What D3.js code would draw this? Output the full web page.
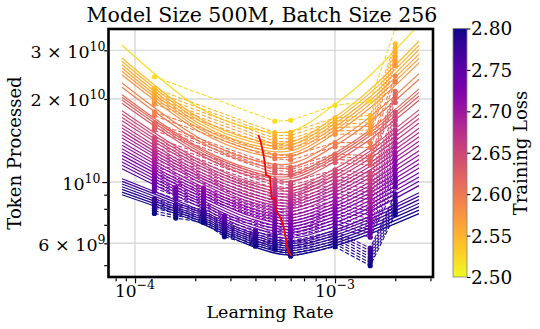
<!DOCTYPE html>
<html lang="en">
<head>
<meta charset="UTF-8">
<title>Model Size 500M, Batch Size 256</title>
<style>
  body { margin: 0; background: #ffffff; }
  svg text { font-family: 'DejaVu Serif', serif; fill: #000000; }
</style>
</head>
<body>
<svg id="chart" width="540" height="329"></svg>
<script src="https://d3js.org/d3.v7.min.js"></script>
<script>
// loss level of each contour, top (yellow) to bottom (dark blue)
const lossLevels = [2.520, 2.544, 2.550, 2.557, 2.563, 2.569, 2.575, 2.591, 2.599, 2.613,
  2.618, 2.623, 2.629, 2.643, 2.649, 2.655, 2.661, 2.669, 2.675, 2.681,
  2.687, 2.694, 2.701, 2.707, 2.714, 2.720, 2.726, 2.732, 2.738, 2.745,
  2.751, 2.770, 2.774, 2.779, 2.785, 2.789, 2.794, 2.799];

// fitted curves: tokens (billions) needed to reach each loss, sampled at these learning rates
const fitLR = [8.61e-5, 2.11e-4, 3.76e-4, 5.96e-4, 1e-3, 1.5e-3, 2.63e-3];
const fit1 = [31.3, 28.14, 27.37, 26.61, 25.88, 25.19, 24.48, 22.84, 22.04, 20.71, 20.27, 19.82, 19.28, 18.12, 17.63, 17.15, 16.67, 16.13, 15.69, 15.26, 14.84, 14.43, 13.97, 13.59, 13.21, 12.84, 12.49, 12.15, 11.82, 11.50, 11.18, 10.28, 10.06, 9.836, 9.617, 9.411, 9.199, 8.995];
const fit2 = [18.49, 17.00, 16.63, 16.25, 15.90, 15.56, 15.20, 14.39, 13.99, 13.30, 13.09, 12.84, 12.57, 11.96, 11.70, 11.45, 11.19, 10.89, 10.65, 10.42, 10.18, 9.969, 9.706, 9.498, 9.276, 9.077, 8.883, 8.677, 8.491, 8.309, 8.117, 7.917, 7.785, 7.643, 7.505, 7.381, 7.248, 7.114];
const fit3 = [15.65, 14.35, 14.04, 13.71, 13.41, 13.11, 12.80, 12.10, 11.75, 11.17, 10.97, 10.77, 10.53, 10.01, 9.788, 9.569, 9.346, 9.092, 8.890, 8.692, 8.491, 8.302, 8.083, 7.903, 7.720, 7.549, 7.380, 7.210, 7.050, 6.893, 6.734, 6.585, 6.465, 6.347, 6.232, 6.124, 6.012, 5.898];
const fit4 = [15.26, 13.93, 13.61, 13.27, 12.96, 12.65, 12.35, 11.64, 11.27, 10.68, 10.48, 10.28, 10.04, 9.521, 9.291, 9.070, 8.853, 8.598, 8.399, 8.199, 8.003, 7.811, 7.586, 7.411, 7.228, 7.062, 6.893, 6.728, 6.567, 6.410, 6.257, 6.094, 5.982, 5.863, 5.753, 5.644, 5.535, 5.431];
const fit5 = [19.12, 17.22, 16.76, 16.30, 15.86, 15.44, 15.01, 14.02, 13.54, 12.74, 12.46, 12.19, 11.87, 11.17, 10.86, 10.57, 10.28, 9.951, 9.682, 9.427, 9.161, 8.913, 8.627, 8.392, 8.164, 7.943, 7.733, 7.517, 7.319, 7.121, 6.922, 6.706, 6.563, 6.422, 6.280, 6.143, 6.012, 5.879];
const fit6 = [24.36, 21.67, 21.03, 20.37, 19.77, 19.19, 18.59, 17.22, 16.56, 15.47, 15.11, 14.74, 14.30, 13.36, 12.96, 12.58, 12.19, 11.75, 11.40, 11.07, 10.71, 10.40, 10.03, 9.730, 9.427, 9.145, 8.875, 8.598, 8.343, 8.096, 7.844, 7.524, 7.351, 7.169, 6.992, 6.830, 6.662, 6.498];
const fit7 = [37.28, 32.43, 31.28, 30.16, 29.07, 28.04, 27.03, 24.69, 23.56, 21.75, 21.13, 20.51, 19.79, 18.26, 17.60, 16.98, 16.37, 15.67, 15.11, 14.58, 14.06, 13.56, 12.98, 12.52, 12.06, 11.65, 11.24, 10.81, 10.43, 10.07, 9.706, 9.147, 8.890, 8.636, 8.379, 8.145, 7.910, 7.683];

// measured runs: tokens (billions) at which each run reached each loss level (null = not reached)
const runLR = [1.25e-4, 1.6e-4, 2.2e-4, 2.8e-4, 4e-4, 5e-4, 6e-4, 1e-3, 1.5e-3, 2e-3];
const N = null;
const run1 = [24.05, 21.82, 21.26, 20.70, 20.18, 19.67, 19.15, 17.97, 17.38, 16.41, 16.08, 15.75, 15.37, 14.51, 14.15, 13.79, 13.43, 13.02, 12.69, 12.37, 12.05, 11.75, 11.40, 11.10, 10.80, 10.54, 10.28, 10.01, 9.763, 9.513, 9.260, 8.714, 8.548, 8.371, 8.192, 8.036, 7.871, 7.701];
const run2 = [N, N, N, N, N, N, N, N, N, N, N, N, N, N, N, N, N, N, N, N, N, N, N, N, N, N, 9.553, 9.315, 9.100, 8.890, 8.670, 8.308, 8.158, 7.996, 7.844, 7.700, 7.548, 7.405];
const run3 = [N, N, N, N, N, N, N, N, N, N, N, N, N, N, N, N, N, N, N, N, N, N, N, 9.536, 9.315, 9.116, 8.913, 8.707, 8.519, 8.337, 8.144, 7.943, 7.811, 7.670, 7.531, 7.405, 7.270, 7.139];
const run4 = [N, N, N, N, N, N, N, N, N, N, N, N, N, N, N, N, N, N, N, N, N, N, N, N, N, N, N, N, 7.561, 7.393, 7.223, 7.068, 6.945, 6.818, 6.695, 6.585, 6.464, 6.342];
const run5 = [N, N, N, N, N, N, N, N, N, N, N, N, N, N, N, N, N, N, N, N, N, N, N, N, N, N, N, N, N, N, 6.694, 6.540, 6.422, 6.305, 6.190, 6.084, 5.972, 5.859];
const run6 = [16.62, 15.11, 14.75, 14.39, 14.04, 13.70, 13.35, 12.55, 12.15, 11.50, 11.29, 11.04, 10.79, 10.20, 9.960, 9.714, 9.474, 9.191, 8.964, 8.750, 8.527, 8.323, 8.077, 7.883, 7.688, 7.498, 7.319, 7.133, 6.956, 6.790, 6.617, 6.433, 6.305, 6.180, 6.058, 5.942, 5.824, 5.710];
const run7 = [16.73, 15.14, 14.75, 14.35, 14.00, 13.63, 13.27, 12.43, 12.01, 11.33, 11.10, 10.86, 10.58, 9.985, 9.730, 9.474, 9.222, 8.934, 8.714, 8.484, 8.261, 8.049, 7.792, 7.599, 7.393, 7.204, 7.021, 6.836, 6.655, 6.486, 6.315, 6.108, 5.987, 5.859, 5.738, 5.619, 5.499, 5.385];
const run8 = [18.96, 17.08, 16.62, 16.17, 15.73, 15.31, 14.89, 13.91, 13.43, 12.63, 12.36, 12.09, 11.77, 11.08, 10.77, 10.48, 10.19, 9.869, 9.601, 9.346, 9.085, 8.838, 8.555, 8.323, 8.096, 7.876, 7.669, 7.454, 7.259, 7.062, 6.864, 6.651, 6.508, 6.369, 6.226, 6.093, 5.963, 5.830];
const run9 = [19.61, 17.44, 16.93, 16.40, 15.91, 15.44, 14.96, 13.87, 13.34, 12.45, 12.17, 11.87, 11.52, 10.75, 10.43, 10.13, 9.812, 9.458, 9.176, 8.905, 8.627, 8.371, 8.070, 7.830, 7.586, 7.362, 7.145, 6.922, 6.717, 6.518, 6.315, 5.761, 5.629, 5.490, 5.354, 5.230, 5.101, 4.975];
const run10 = [36.0, 31.68, 30.59, 29.48, 28.44, 27.44, 26.45, 24.20, 23.09, 21.32, 20.75, 20.18, 19.43, 17.94, 17.31, 16.71, 16.11, 15.43, 14.89, 14.37, 13.86, 13.37, 12.81, 12.36, 11.92, 11.50, 11.10, 10.69, 10.33, 9.969, 9.609, 9.071, 8.817, 8.570, 8.316, 8.089, 7.859, 7.632];

// optimal learning rate path (red)
const optLR = [4.14e-4, 4.25e-4, 4.38e-4, 4.47e-4, 4.52e-4, 4.73e-4, 4.77e-4, 4.83e-4, 5.01e-4, 5.07e-4, 5.31e-4, 5.51e-4, 5.62e-4, 5.73e-4, 5.84e-4, 6.07e-4];
const optTokens = [14.80, 14.00, 12.70, 11.53, 10.60, 10.45, 9.617, 8.728, 8.728, 7.916, 7.485, 6.985, 6.518, 5.996, 5.600, 5.400];

// ticks
const xMajor = [1e-4, 1e-3];
const xMinor = [8e-5, 9e-5, 2e-4, 3e-4, 4e-4, 5e-4, 6e-4, 7e-4, 8e-4, 9e-4, 2e-3, 3e-3];
const xTickLabels = [["10", "\u22124"], ["10", "\u22123"]];
const yMajor = [10];
const yMinor = [5, 6, 7, 8, 9, 20, 30];
const yLabelled = [6, 10, 20, 30];
const yTickLabels = [["6 \u00d7 10", "9"], ["10", "10"], ["2 \u00d7 10", "10"], ["3 \u00d7 10", "10"]];
const cbarTicks = [2.50, 2.55, 2.60, 2.65, 2.70, 2.75, 2.80];

const fitCols = [fit1, fit2, fit3, fit4, fit5, fit6, fit7];
const runCols = [run1, run2, run3, run4, run5, run6, run7, run8, run9, run10];

const svg = d3.select("#chart");
const plot = {left: 108.5, right: 433, top: 29, bottom: 277};

const x = d3.scaleLog().domain([7.37e-5, 3.09e-3]).range([plot.left, plot.right]);
const y = d3.scaleLog().domain([4.53, 35.84]).range([plot.bottom, plot.top]);
const color = d3.scaleSequential(d3.interpolatePlasma).domain([2.8, 2.5]);

svg.append("clipPath").attr("id", "clip")
  .append("rect")
  .attr("x", plot.left).attr("y", plot.top)
  .attr("width", plot.right - plot.left).attr("height", plot.bottom - plot.top);

// grid
const grid = svg.append("g").attr("stroke", "#d9d9d9").attr("stroke-width", 1.4);
grid.selectAll(".gx").data(xMajor).join("line")
  .attr("x1", d => x(d)).attr("x2", d => x(d))
  .attr("y1", plot.top).attr("y2", plot.bottom);
grid.selectAll(".gy").data(yLabelled).join("line")
  .attr("x1", plot.left).attr("x2", plot.right)
  .attr("y1", d => y(d)).attr("y2", d => y(d));

const marks = svg.append("g").attr("clip-path", "url(#clip)");

// fitted curves (solid)
const fitLine = d3.line()
  .x(d => x(d[0])).y(d => y(d[1]))
  .curve(d3.curveCatmullRom.alpha(0.5));
lossLevels.forEach((loss, i) => {
  const pts = fitLR.map((lr, j) => [lr, fitCols[j][i]]);
  marks.append("path")
    .attr("d", fitLine(pts))
    .attr("fill", "none")
    .attr("stroke", color(loss))
    .attr("stroke-width", 1.2);
});

// measured runs (dashed + markers)
const runLine = d3.line().x(d => x(d[0])).y(d => y(d[1]));
lossLevels.forEach((loss, i) => {
  const pts = runLR.map((lr, j) => [lr, runCols[j][i]]).filter(d => d[1] != null);
  marks.append("path")
    .attr("d", runLine(pts))
    .attr("fill", "none")
    .attr("stroke", color(loss))
    .attr("stroke-width", 1.1)
    .attr("stroke-dasharray", "4.4,1.9");
  marks.selectAll(null).data(pts).join("circle")
    .attr("cx", d => x(d[0])).attr("cy", d => y(d[1]))
    .attr("r", 2.6)
    .attr("fill", color(loss));
});

// optimum path
marks.append("path")
  .datum(optLR.map((lr, i) => [lr, optTokens[i]]))
  .attr("d", runLine)
  .attr("fill", "none")
  .attr("stroke", "#ff0000")
  .attr("stroke-width", 1.8);

// frame
svg.append("rect")
  .attr("x", plot.left).attr("y", plot.top)
  .attr("width", plot.right - plot.left).attr("height", plot.bottom - plot.top)
  .attr("fill", "none").attr("stroke", "#000").attr("stroke-width", 2.6);

// ticks
function tickGroup(axis, transform) {
  svg.append("g").attr("transform", transform)
    .call(axis.tickFormat(""))
    .call(g => g.select(".domain").remove())
    .call(g => g.selectAll("line").attr("stroke-width", 1.2));
}
tickGroup(d3.axisBottom(x).tickValues(xMajor).tickSize(5), `translate(0,${plot.bottom + 1.3})`);
tickGroup(d3.axisBottom(x).tickValues(xMinor.filter(v => x(v) > plot.left && x(v) < plot.right)).tickSize(3), `translate(0,${plot.bottom + 1.3})`);
tickGroup(d3.axisLeft(y).tickValues(yMajor).tickSize(5), `translate(${plot.left - 1.3},0)`);
tickGroup(d3.axisLeft(y).tickValues(yMinor.filter(v => y(v) > plot.top && y(v) < plot.bottom)).tickSize(3), `translate(${plot.left - 1.3},0)`);

// tick labels
svg.selectAll(".xl").data(xMajor).join("text")
  .attr("x", d => x(d)).attr("y", 297)
  .attr("text-anchor", "middle").attr("font-size", 17)
  .each(function(d, i) {
    const t = d3.select(this);
    t.append("tspan").text(xTickLabels[i][0]);
    t.append("tspan").attr("dy", -8).attr("font-size", 12.5).text(xTickLabels[i][1]);
  });
svg.selectAll(".yl").data(yLabelled).join("text")
  .attr("x", d => yMajor.includes(d) ? 100.5 : 105.5).attr("y", d => y(d) + 7.5)
  .attr("text-anchor", "end").attr("font-size", 17.5)
  .each(function(d, i) {
    const t = d3.select(this);
    t.append("tspan").text(yTickLabels[i][0]);
    t.append("tspan").attr("dy", -7).attr("font-size", 12.5).text(yTickLabels[i][1]);
  });

// title and axis labels
svg.append("text").attr("x", 262).attr("y", 22).attr("text-anchor", "middle")
  .attr("font-size", 20.5).text("Model Size 500M, Batch Size 256");
svg.append("text").attr("x", 270).attr("y", 318).attr("text-anchor", "middle")
  .attr("font-size", 17.5).text("Learning Rate");
svg.append("text").attr("transform", "translate(21,153) rotate(-90)")
  .attr("text-anchor", "middle").attr("font-size", 18).text("Token Processed");

// colorbar
const cb = {x: 453, w: 14, top: 28.5, bottom: 277};
const cy = d3.scaleLinear().domain([2.5, 2.8]).range([cb.bottom, cb.top]);
const grad = svg.append("defs").append("linearGradient")
  .attr("id", "cbar").attr("x1", 0).attr("y1", 1).attr("x2", 0).attr("y2", 0);
grad.selectAll("stop").data(d3.range(0, 1.0001, 0.05)).join("stop")
  .attr("offset", d => d)
  .attr("stop-color", d => color(2.5 + 0.3 * d));
svg.append("rect")
  .attr("x", cb.x).attr("y", cb.top).attr("width", cb.w).attr("height", cb.bottom - cb.top)
  .attr("fill", "url(#cbar)").attr("stroke", "#808080").attr("stroke-width", 0.8);
svg.append("g").attr("transform", `translate(${cb.x + cb.w},0)`)
  .call(d3.axisRight(cy).tickValues(cbarTicks).tickSize(3.5).tickFormat(d3.format(".2f")))
  .call(g => g.select(".domain").remove())
  .call(g => g.selectAll("line").attr("stroke-width", 1))
  .call(g => g.selectAll("text").attr("font-size", 18.5).attr("x", 4).attr("dy", "0.35em"));
svg.append("text").attr("transform", "translate(527,153) rotate(-90)")
  .attr("text-anchor", "middle").attr("font-size", 18).text("Training Loss");
</script>
</body>
</html>
